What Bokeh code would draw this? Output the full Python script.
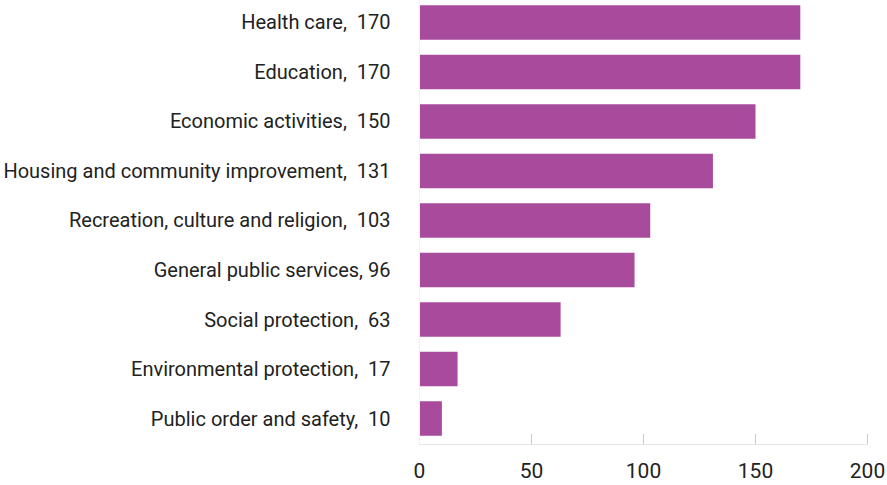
from bokeh.plotting import figure
from bokeh.models import Range1d, FixedTicker, ColumnDataSource
from bokeh.embed import file_html
from bokeh.resources import INLINE

categories = ["Health care", "Education", "Economic activities",
              "Housing and community improvement", "Recreation, culture and religion",
              "General public services", "Social protection",
              "Environmental protection", "Public order and safety"]
values = [170, 170, 150, 131, 103, 96, 63, 17, 10]
labels = ["Health care,\u00a0 170", "Education,\u00a0 170", "Economic activities,\u00a0 150",
          "Housing and community improvement,\u00a0 131",
          "Recreation, culture and religion,\u00a0 103",
          "General public services, 96", "Social protection,\u00a0 63",
          "Environmental protection,\u00a0 17", "Public order and safety,\u00a0 10"]
x_ticks = [0, 50, 100, 150, 200]

n = len(categories)
ypos = [n - 1 - i for i in range(n)]

src = ColumnDataSource(dict(y=ypos, v=values, cat=categories))

FONT = "Roboto"
p = figure(width=887, height=485, output_backend="svg", toolbar_location=None,
           x_range=Range1d(0, 200), y_range=Range1d(-0.525, 8.444),
           min_border_left=419, min_border_right=20, min_border_top=0,
           min_border_bottom=41)
p.hbar(y="y", right="v", left=0, height=0.7, source=src,
       fill_color="#a94b9c", line_color=None)

p.outline_line_color = None
p.xgrid.visible = False
p.ygrid.visible = False
p.background_fill_color = "white"
p.border_fill_color = "white"

xa = p.xaxis[0]
xa.ticker = FixedTicker(ticks=x_ticks)
xa.axis_line_color = "#e6e6e6"
xa.major_tick_line_color = "#cccccc"
xa.major_tick_in = 11
xa.major_tick_out = 0
xa.minor_tick_line_color = None
xa.major_label_text_font = FONT
xa.major_label_text_font_size = "21px"
xa.major_label_text_color = "#222222"
xa.major_label_standoff = 18

ya = p.yaxis[0]
ya.ticker = FixedTicker(ticks=ypos)
ya.major_label_overrides = {y: lab for y, lab in zip(ypos, labels)}
ya.axis_line_color = "#f0f0f0"
ya.major_tick_line_color = None
ya.minor_tick_line_color = None
ya.major_tick_in = 0
ya.major_tick_out = 0
ya.major_label_text_font = FONT
ya.major_label_text_font_size = "20px"
ya.major_label_text_color = "#222222"
ya.major_label_standoff = 29

open("out.html", "w").write(file_html(p, INLINE))
